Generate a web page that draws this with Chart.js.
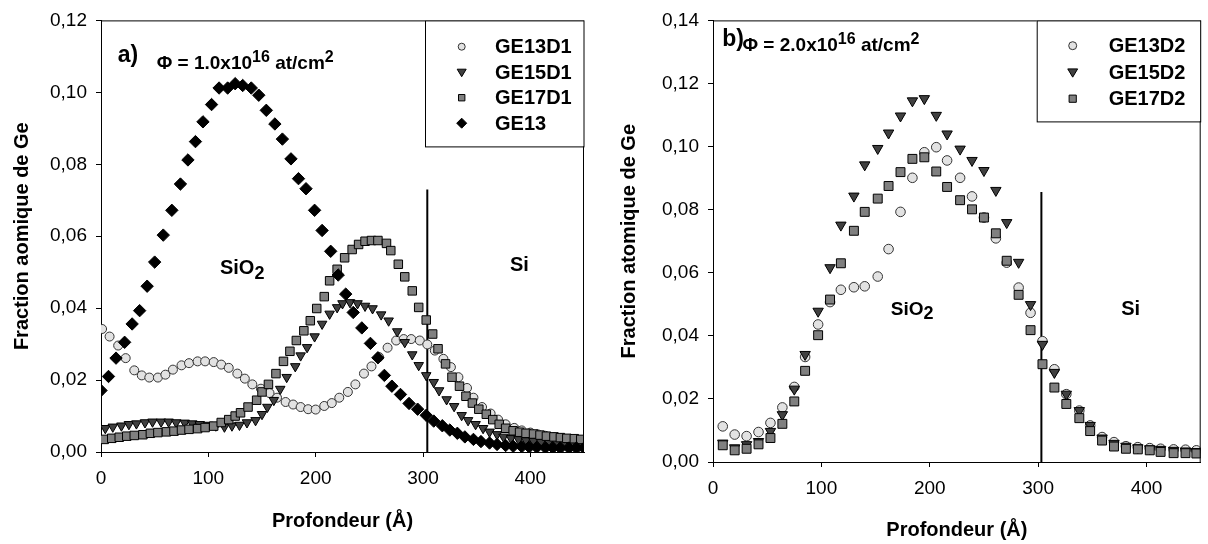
<!DOCTYPE html>
<html><head><meta charset="utf-8">
<script src="https://cdn.jsdelivr.net/npm/chart.js@4/dist/chart.umd.min.js"></script>
<style>
html,body{margin:0;padding:0;background:#fff;}
#wrap{position:relative;width:1208px;height:544px;overflow:hidden;}
.box{position:absolute;top:0;width:604px;height:544px;}
</style></head><body>
<div id="wrap">
<div class="box" style="left:0"><canvas id="cA"></canvas></div>
<div class="box" style="left:604px"><canvas id="cB"></canvas></div>
</div>
<script>
// ---------- Panel a) data ----------
const namesA = ['GE13D1', 'GE15D1', 'GE17D1', 'GE13'];
const depthGE13D1 = [1,8,16,23,31,38,45,53,60,67,75,82,90,97,105,112,119,127,134,141,149,157,164,172,179,186,193,200,208,215,222,230,237,245,252,259,267,275,282,289,297,304,311,319,326,333,341,347,355,363,370,377,385,392,400,407,414,422,429,437,444,450];
const fracGE13D1 = [0.0342,0.0321,0.0296,0.0261,0.0227,0.0213,0.0207,0.0207,0.0215,0.0229,0.0241,0.0247,0.0252,0.0252,0.0250,0.0243,0.0234,0.0218,0.0204,0.0188,0.0176,0.0164,0.0151,0.0139,0.0132,0.0125,0.0119,0.0118,0.0128,0.0136,0.0151,0.0167,0.0188,0.0218,0.0238,0.0264,0.0290,0.0310,0.0314,0.0314,0.0310,0.0299,0.0282,0.0259,0.0236,0.0208,0.0178,0.0151,0.0125,0.0107,0.0090,0.0077,0.0067,0.0060,0.0054,0.0049,0.0045,0.0041,0.0037,0.0034,0.0032,0.0030];
const depthGE15D1 = [4,11,19,26,33,41,48,56,63,70,78,85,92,100,107,115,122,129,136,144,150,155,161,167,173,181,186,192,199,206,213,220,225,232,239,246,253,261,268,276,283,290,296,303,310,315,322,329,336,342,349,356,362,369,375,382,389,396,403,410,417,424,431,438,445];
const fracGE15D1 = [0.0066,0.0070,0.0073,0.0077,0.0079,0.0082,0.0084,0.0084,0.0084,0.0082,0.0081,0.0079,0.0077,0.0075,0.0073,0.0070,0.0073,0.0075,0.0082,0.0088,0.0105,0.0125,0.0144,0.0175,0.0208,0.0238,0.0268,0.0291,0.0321,0.0356,0.0384,0.0402,0.0413,0.0416,0.0413,0.0406,0.0399,0.0382,0.0365,0.0335,0.0305,0.0271,0.0241,0.0213,0.0194,0.0171,0.0146,0.0127,0.0102,0.0088,0.0077,0.0066,0.0056,0.0049,0.0042,0.0038,0.0035,0.0032,0.0030,0.0028,0.0027,0.0026,0.0025,0.0024,0.0023];
const depthGE17D1 = [3,10,17,24,31,39,46,53,61,68,75,82,90,97,105,112,119,125,130,137,145,150,156,163,170,176,182,189,195,201,208,213,220,227,234,240,246,252,258,266,270,277,283,290,296,303,309,314,321,327,334,340,346,352,359,365,371,377,384,390,396,403,409,415,422,428,434,441,447];
const fracGE17D1 = [0.0035,0.0038,0.0041,0.0044,0.0046,0.0048,0.0052,0.0054,0.0056,0.0058,0.0061,0.0063,0.0065,0.0068,0.0072,0.0082,0.0090,0.0100,0.0109,0.0125,0.0144,0.0167,0.0188,0.0218,0.0252,0.0280,0.0310,0.0337,0.0365,0.0399,0.0432,0.0476,0.0508,0.0540,0.0563,0.0577,0.0586,0.0588,0.0588,0.0580,0.0560,0.0522,0.0487,0.0448,0.0402,0.0367,0.0328,0.0287,0.0245,0.0208,0.0183,0.0155,0.0136,0.0119,0.0105,0.0090,0.0077,0.0066,0.0059,0.0055,0.0052,0.0050,0.0047,0.0044,0.0042,0.0040,0.0038,0.0037,0.0035];
const depthGE13 = [0,7,14,22,29,36,43,50,58,66,74,81,88,95,103,110,118,125,132,140,147,154,162,169,177,184,191,199,206,214,221,228,235,243,251,258,264,271,279,287,295,303,310,318,325,332,339,347,354,362,369,377,384,392,399,406,414,421,428,436,443,450];
const fracGE13 = [0.0171,0.0210,0.0261,0.0305,0.0356,0.0393,0.0461,0.0528,0.0603,0.0672,0.0745,0.0812,0.0863,0.0918,0.0966,0.1012,0.1012,0.1024,0.1019,0.1012,0.0992,0.0950,0.0912,0.0870,0.0815,0.0760,0.0732,0.0672,0.0616,0.0558,0.0492,0.0439,0.0388,0.0345,0.0302,0.0262,0.0213,0.0183,0.0160,0.0135,0.0119,0.0102,0.0086,0.0073,0.0061,0.0052,0.0042,0.0035,0.0029,0.0025,0.0021,0.0018,0.0016,0.0015,0.0014,0.0013,0.0012,0.0012,0.0011,0.0011,0.0011,0.0011];
const interfaceA = [{x:304, y:0}, {x:304, y:0.073}];
const xTicksA = [0,100,200,300,400];
const yTicksA = [0,0.02,0.04,0.06,0.08,0.10,0.12];

// ---------- Panel b) data ----------
const namesB = ['GE13D2', 'GE15D2', 'GE17D2'];
const depthB = [9,20,31,42,53,64,75,85,97,108,118,130,140,152,162,173,184,195,206,216,228,239,250,261,271,282,293,304,315,326,338,348,359,370,381,392,403,413,425,436,446];
const fracGE13D2 = [0.0113,0.0087,0.0082,0.0095,0.0124,0.0173,0.0238,0.0333,0.0436,0.0507,0.0546,0.0554,0.0557,0.0588,0.0675,0.0793,0.0901,0.0982,0.0998,0.0956,0.0901,0.0842,0.0775,0.0709,0.0632,0.0553,0.0473,0.0383,0.0294,0.0215,0.0163,0.0116,0.0079,0.0063,0.0050,0.0047,0.0044,0.0042,0.0040,0.0039,0.0037];
const fracGE15D2 = [0.0060,0.0045,0.0055,0.0065,0.0097,0.0150,0.0231,0.0341,0.0478,0.0616,0.0751,0.0843,0.0942,0.0994,0.1043,0.1097,0.1145,0.1152,0.1099,0.1040,0.0992,0.0956,0.0924,0.0861,0.0759,0.0633,0.0499,0.0373,0.0284,0.0215,0.0163,0.0116,0.0076,0.0059,0.0050,0.0045,0.0042,0.0040,0.0037,0.0035,0.0033];
const fracGE17D2 = [0.0053,0.0037,0.0042,0.0056,0.0076,0.0121,0.0192,0.0289,0.0402,0.0515,0.0630,0.0733,0.0793,0.0835,0.0875,0.0919,0.0961,0.0966,0.0921,0.0872,0.0830,0.0801,0.0775,0.0725,0.0638,0.0530,0.0418,0.0310,0.0236,0.0184,0.0139,0.0098,0.0068,0.0049,0.0042,0.0040,0.0037,0.0032,0.0028,0.0028,0.0027];
const interfaceB = [{x:303, y:0}, {x:303, y:0.0856}];
const xTicksB = [0,100,200,300,400];
const yTicksB = [0,0.02,0.04,0.06,0.08,0.10,0.12,0.14];

// ---------- helpers ----------
const FONT = "'Liberation Sans', Arial, Helvetica, sans-serif";
Chart.defaults.font.family = FONT;
Chart.defaults.color = '#000';

const toPts = (d, v) => d.map((x, i) => ({x: x, y: v[i]}));
const fmt = v => v.toFixed(2).replace('.', ',');

const STY = {
  circle: {fill: '#e2e2e2'},
  tri: {fill: '#404040'},
  rect: {fill: '#808080'},
  diamond: {fill: '#000000'}
};

function drawMarker(ctx, style, x, y, r) {
  ctx.save();
  ctx.fillStyle = STY[style].fill;
  ctx.strokeStyle = style === 'circle' ? '#333' : '#000';
  ctx.lineWidth = 1;
  ctx.beginPath();
  if (style === 'circle') {
    ctx.arc(x, y, r, 0, Math.PI * 2);
  } else if (style === 'tri') {
    ctx.moveTo(x - r * 0.9, y - r * 0.6);
    ctx.lineTo(x + r * 0.9, y - r * 0.6);
    ctx.lineTo(x, y + r * 0.9);
    ctx.closePath();
  } else if (style === 'rect') {
    ctx.rect(x - r * 0.8, y - r * 0.8, r * 1.6, r * 1.6);
  } else {
    ctx.moveTo(x, y - r); ctx.lineTo(x + r, y); ctx.lineTo(x, y + r); ctx.lineTo(x - r, y);
    ctx.closePath();
  }
  ctx.fill(); ctx.stroke();
  ctx.restore();
}

function drawRuns(ctx, x, y, parts) {
  ctx.save();
  ctx.fillStyle = '#000';
  ctx.textBaseline = 'alphabetic';
  ctx.textAlign = 'left';
  let cx = x;
  for (const p of parts) {
    ctx.font = 'bold ' + p.size + 'px ' + FONT;
    ctx.fillText(p.t, cx, y + (p.dy || 0));
    cx += ctx.measureText(p.t).width;
  }
  ctx.restore();
}

const notesPlugin = {
  id: 'notes',
  afterDraw(chart, args, o) {
    const {ctx, chartArea: a, scales: {x, y}} = chart;
    ctx.save();
    // frame top and right
    ctx.strokeStyle = '#000';
    ctx.lineWidth = 1;
    ctx.beginPath();
    ctx.moveTo(a.left, a.top + 0.5); ctx.lineTo(a.right, a.top + 0.5);
    ctx.moveTo(a.right - 0.5, a.top); ctx.lineTo(a.right - 0.5, a.bottom);
    ctx.stroke();
    // legend box
    const L = o.legend;
    const lx = a.right - L.w, ly = a.top;
    ctx.fillStyle = '#fff';
    ctx.fillRect(lx, ly, L.w, L.h);
    ctx.strokeRect(lx + 0.5, ly + 0.5, L.w - 0.5, L.h);
    L.items.forEach((it, i) => {
      const yy = ly + L.y0 + i * L.dy;
      drawMarker(ctx, it.style, lx + L.sx, yy, it.r);
      ctx.fillStyle = '#000';
      ctx.font = 'bold ' + L.size + 'px ' + FONT;
      ctx.textBaseline = 'middle';
      ctx.textAlign = 'left';
      ctx.fillText(it.label, lx + L.tx, yy + 1);
    });
    // annotations placed in data space
    o.texts.forEach(t => drawRuns(ctx, x.getPixelForValue(t.x), y.getPixelForValue(t.y), t.parts));
    ctx.restore();
  }
};

function scatterSet(label, pts, style, r, rot) {
  const map = {circle: 'circle', tri: 'triangle', rect: 'rect', diamond: 'rectRot'};
  return {
    label: label, data: pts, pointStyle: map[style], pointRadius: r, pointHoverRadius: r,
    pointRotation: rot || 0, backgroundColor: STY[style].fill,
    borderColor: style === 'circle' ? '#333' : '#000', borderWidth: 1, showLine: false
  };
}

function lineSet(pts) {
  return {label: 'interface', data: pts, showLine: true, pointRadius: 0, borderColor: '#000', borderWidth: 2};
}

function makeOptions(cfg) {
  return {
    responsive: true, maintainAspectRatio: false, animation: false, devicePixelRatio: 1,
    events: [],
    layout: {padding: {left: 0, top: cfg.top, right: cfg.right, bottom: 0}},
    plugins: {legend: {display: false}, tooltip: {enabled: false}, notes: cfg.notes},
    scales: {
      x: {
        type: 'linear', min: 0, max: 450,
        afterBuildTicks: ax => { ax.ticks = cfg.xTicks.map(v => ({value: v})); },
        afterFit: ax => { ax.height = cfg.xh; },
        ticks: {font: {size: 19}, padding: 10, maxRotation: 0, callback: v => String(v)},
        grid: {drawOnChartArea: false, drawTicks: true, tickLength: 5, color: '#000'},
        border: {display: true, color: '#000', width: 1},
        title: {display: true, text: 'Profondeur (Å)', font: {size: 20, weight: 'bold'}, padding: {top: 0, bottom: cfg.xtpad}}
      },
      y: {
        type: 'linear', min: 0, max: cfg.ymax,
        afterBuildTicks: ax => { ax.ticks = cfg.yTicks.map(v => ({value: v})); },
        afterFit: ax => { ax.width = cfg.yw; },
        ticks: {font: {size: 19}, padding: 9, callback: v => fmt(v)},
        grid: {drawOnChartArea: false, drawTicks: true, tickLength: 5, color: '#000'},
        border: {display: true, color: '#000', width: 1},
        title: {display: true, text: cfg.ytitle, font: {size: 20, weight: 'bold'}, padding: {top: cfg.ytpad, bottom: 0}}
      }
    }
  };
}

// ---------- Chart a) ----------
new Chart(document.getElementById('cA'), {
  type: 'scatter',
  data: {datasets: [
    scatterSet(namesA[3], toPts(depthGE13, fracGE13), 'diamond', 6.2),
    scatterSet(namesA[2], toPts(depthGE17D1, fracGE17D1), 'rect', 6),
    scatterSet(namesA[1], toPts(depthGE15D1, fracGE15D1), 'tri', 5.5, 180),
    scatterSet(namesA[0], toPts(depthGE13D1, fracGE13D1), 'circle', 4.5),
    lineSet(interfaceA)
  ]},
  options: makeOptions({
    top: 18, right: 20, xh: 92, yw: 101, ymax: 0.12, xTicks: xTicksA, yTicks: yTicksA,
    xtpad: 11, ytpad: 10, ytitle: 'Fraction aomique de Ge',
    notes: {
      legend: {w: 159, h: 126, y0: 26.3, dy: 25.5, sx: 36.7, tx: 70, size: 20, items: [
        {label: namesA[0], style: 'circle', r: 3.5},
        {label: namesA[1], style: 'tri', r: 5},
        {label: namesA[2], style: 'rect', r: 4},
        {label: namesA[3], style: 'diamond', r: 5}
      ]},
      texts: [
        {x: 15.6, y: 0.1084, parts: [{t: 'a)', size: 23}]},
        {x: 51.9, y: 0.1065, parts: [{t: 'Φ = 1.0x10', size: 19}, {t: '16', size: 16, dy: -7}, {t: ' at/cm', size: 19}, {t: '2', size: 16, dy: -7}]},
        {x: 110.8, y: 0.0495, parts: [{t: 'SiO', size: 20}, {t: '2', size: 18, dy: 5}]},
        {x: 381, y: 0.0503, parts: [{t: 'Si', size: 20}]}
      ]
    }
  }),
  plugins: [notesPlugin]
});

// ---------- Chart b) ----------
new Chart(document.getElementById('cB'), {
  type: 'scatter',
  data: {datasets: [
    scatterSet(namesB[2], toPts(depthB, fracGE17D2), 'rect', 6.3),
    scatterSet(namesB[1], toPts(depthB, fracGE15D2), 'tri', 6, 180),
    scatterSet(namesB[0], toPts(depthB, fracGE13D2), 'circle', 4.8),
    lineSet(interfaceB)
  ]},
  options: makeOptions({
    top: 17, right: 3, xh: 82, yw: 109, ymax: 0.14, xTicks: xTicksB, yTicks: yTicksB,
    xtpad: 2, ytpad: 13, ytitle: 'Fraction atomique de Ge',
    notes: {
      legend: {w: 164, h: 101, y0: 25.3, dy: 26.5, sx: 36, tx: 72, size: 20, items: [
        {label: namesB[0], style: 'circle', r: 4},
        {label: namesB[1], style: 'tri', r: 5.5},
        {label: namesB[2], style: 'rect', r: 4.5}
      ]},
      texts: [
        {x: 8.6, y: 0.1318, parts: [{t: 'b)', size: 23}]},
        {x: 27.2, y: 0.1304, parts: [{t: 'Φ = 2.0x10', size: 19}, {t: '16', size: 16, dy: -7}, {t: ' at/cm', size: 19}, {t: '2', size: 16, dy: -7}]},
        {x: 164, y: 0.0467, parts: [{t: 'SiO', size: 19}, {t: '2', size: 18, dy: 4}]},
        {x: 376.7, y: 0.0467, parts: [{t: 'Si', size: 20}]}
      ]
    }
  }),
  plugins: [notesPlugin]
});
</script>
</body></html>
